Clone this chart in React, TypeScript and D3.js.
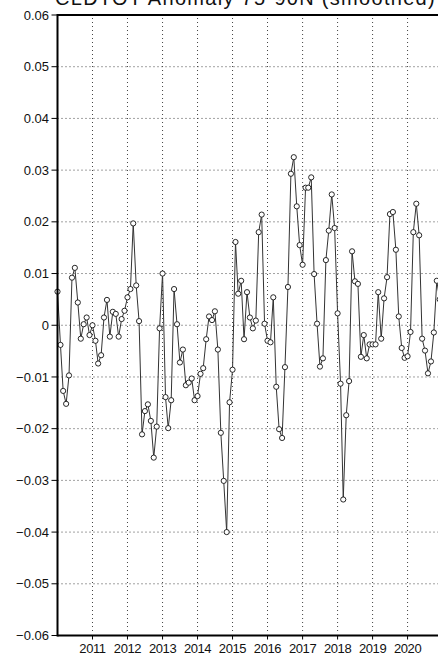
import React from 'react'
import * as d3 from 'd3'

// monthly smoothed anomaly, starting Jan 2010
const startYear = 2010
const values = [
  0.0065, -0.0038, -0.0127, -0.0152, -0.0097, 0.0092, 0.0111, 0.0044, -0.0026, 0.0002, 0.0015, -0.0019,
  0.0000, -0.0030, -0.0074, -0.0058, 0.0015, 0.0049, -0.0022, 0.0026, 0.0022, -0.0022, 0.0012, 0.0028,
  0.0054, 0.0070, 0.0197, 0.0077, 0.0008, -0.0211, -0.0166, -0.0153, -0.0185, -0.0256, -0.0196, -0.0006,
  0.0100, -0.0139, -0.0199, -0.0145, 0.0070, 0.0002, -0.0072, -0.0047, -0.0116, -0.0111, -0.0103, -0.0145,
  -0.0137, -0.0094, -0.0083, -0.0027, 0.0017, 0.0010, 0.0027, -0.0047, -0.0208, -0.0301, -0.0400, -0.0149,
  -0.0086, 0.0161, 0.0061, 0.0086, -0.0027, 0.0064, 0.0015, -0.0006, 0.0009, 0.0180, 0.0214, 0.0003,
  -0.0030, -0.0033, 0.0054, -0.0119, -0.0201, -0.0218, -0.0081, 0.0074, 0.0293, 0.0325, 0.0230, 0.0155,
  0.0117, 0.0266, 0.0266, 0.0286, 0.0099, 0.0003, -0.0080, -0.0064, 0.0126, 0.0183, 0.0253, 0.0188,
  0.0023, -0.0113, -0.0337, -0.0174, -0.0108, 0.0143, 0.0085, 0.0080, -0.0061, -0.0019, -0.0064, -0.0037,
  -0.0037, -0.0037, 0.0064, -0.0026, 0.0052, 0.0093, 0.0215, 0.0219, 0.0146, 0.0017, -0.0044, -0.0063,
  -0.0060, -0.0013, 0.0180, 0.0235, 0.0174, -0.0026, -0.0049, -0.0093, -0.0070, -0.0014, 0.0086, 0.0050,
]
const yearTicks = [2011, 2012, 2013, 2014, 2015, 2016, 2017, 2018, 2019, 2020]
const yTicks = [-0.06, -0.05, -0.04, -0.03, -0.02, -0.01, 0, 0.01, 0.02, 0.03, 0.04, 0.05, 0.06]
const title = 'CLDTOT Anomaly 75-90N (smoothed)'

const W = 438
const H = 657
const FONT = '"Liberation Sans", Arial, sans-serif'

export default function App() {
  const left = 57.5
  const top = 15
  const bottom = 635.5

  const t0 = new Date(Date.UTC(startYear, 0, 1))
  const x = d3.scaleUtc()
    .domain([t0, new Date(Date.UTC(startYear + 11, 6, 1))])
    .range([left, left + 11.5 * 35])
  const y = d3.scaleLinear().domain([-0.06, 0.06]).range([bottom, top])

  const pts = values.map((v, i) => ({ date: d3.utcMonth.offset(t0, i), v }))
  const line = d3.line<{ date: Date; v: number }>()
    .x(d => x(d.date))
    .y(d => y(d.v))

  const fmt = (d: number) => (d === 0 ? '0' : d3.format('.2f')(d))

  return (
    <div style={{ position: 'absolute', left: 0, top: 0 }}>
      <svg width={W} height={H} style={{ display: 'block', background: '#fff' }}>
        {/* title sits mostly above the page, as in the original */}
        <text x={55} y={5} fontFamily={FONT} fontSize={20} letterSpacing={1.3} fill="#111">{title}</text>

        {/* grid */}
        {yTicks.slice(1, -1).map(t => (
          <line key={'gy' + t} x1={left} x2={W} y1={y(t)} y2={y(t)}
            stroke="#444" strokeWidth={1} strokeDasharray="1 3" />
        ))}
        {yearTicks.map(yr => {
          const gx = x(new Date(Date.UTC(yr, 0, 1)))
          return (
            <line key={'gx' + yr} x1={gx} x2={gx} y1={top + 3} y2={bottom - 3}
              stroke="#444" strokeWidth={1} strokeDasharray="1 3" />
          )
        })}

        {/* series */}
        <path d={line(pts) || ''} fill="none" stroke="#333" strokeWidth={1} />
        {pts.map((d, i) => (
          <circle key={i} cx={x(d.date)} cy={y(d.v)} r={2.6}
            fill="#fff" stroke="#111" strokeWidth={0.9} />
        ))}

        {/* frame */}
        <line x1={left} x2={W} y1={top} y2={top} stroke="#000" strokeWidth={2} />
        <line x1={left} x2={W} y1={bottom} y2={bottom} stroke="#000" strokeWidth={2} />
        <line x1={left} x2={left} y1={top - 1} y2={bottom + 1} stroke="#000" strokeWidth={2} />

        {/* y axis */}
        {yTicks.map(t => (
          <g key={'yt' + t}>
            <line x1={left - 6} x2={left} y1={y(t)} y2={y(t)} stroke="#000" strokeWidth={1} />
            <text x={49} y={y(t)} dy="0.35em" textAnchor="end"
              fontFamily={FONT} fontSize={13} fill="#111">{fmt(t)}</text>
          </g>
        ))}

        {/* x axis */}
        {yearTicks.map(yr => {
          const gx = x(new Date(Date.UTC(yr, 0, 1)))
          return (
            <g key={'xt' + yr}>
              <line x1={gx} x2={gx} y1={bottom} y2={bottom + 4} stroke="#000" strokeWidth={1} />
              <text x={gx} y={653} textAnchor="middle" fontFamily={FONT} fontSize={13}
                letterSpacing={-0.4} fill="#111">{yr}</text>
            </g>
          )
        })}
      </svg>
    </div>
  )
}
